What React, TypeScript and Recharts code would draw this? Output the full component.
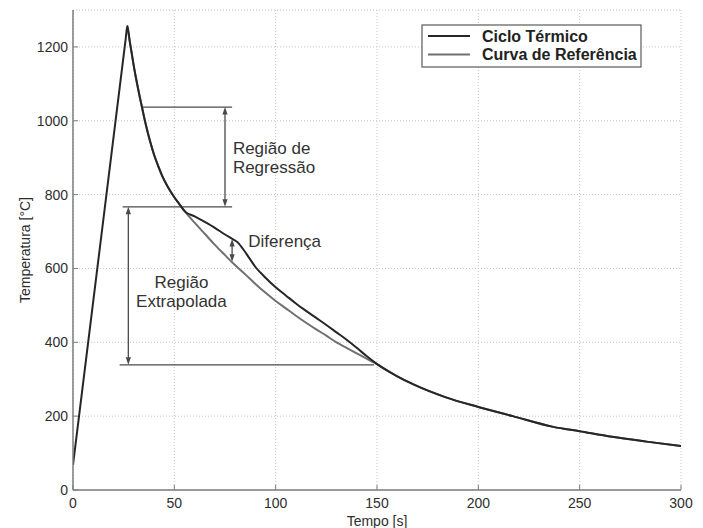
import React from 'react'
import {
  LineChart,
  Line,
  XAxis,
  YAxis,
  CartesianGrid,
  ReferenceLine,
  ReferenceDot,
  Legend,
} from 'recharts'

// Ciclo térmico medido: tempo [s] e temperatura [°C]
const cicloTempo = [0, 26, 26.8, 28, 29, 30, 31, 32, 33, 34, 35, 36, 38, 40, 42, 44, 46, 48, 50, 52, 55.3, 60, 65, 70, 75, 78, 81, 84, 87, 90, 95, 100, 105, 110, 115, 120, 125, 130, 135, 140, 145, 150, 160, 168, 184, 200, 217, 237, 250, 266, 283, 300]
const cicloTemp = [68, 1222, 1257, 1215, 1182, 1148, 1118, 1090, 1063, 1038, 1012, 988, 945, 908, 878, 851, 829, 810, 793, 778, 754, 741, 726, 710, 692, 682, 672, 652, 628, 604, 575, 549, 527, 505, 485, 466, 447, 427, 407, 385, 362, 341, 308, 286, 251, 225, 200, 171, 159, 144, 131, 119]

// Curva de referência (ajuste da região de regressão, extrapolada)
const refTempo = [26.8, 28, 29, 30, 31, 32, 33, 34, 35, 36, 38, 40, 42, 44, 46, 48, 50, 52, 55.3, 60, 65, 70, 75, 79, 85, 90, 95, 100, 105, 110, 115, 120, 125, 130, 135, 140, 145, 150, 160, 168, 184, 200, 217, 237, 250, 266, 283, 300]
const refTemp = [1257, 1215, 1182, 1148, 1118, 1090, 1063, 1038, 1012, 988, 945, 908, 878, 851, 829, 810, 793, 778, 754, 724, 694, 664, 636, 614, 584, 558, 534, 512, 492, 472, 453, 435, 418, 400, 385, 370, 355, 341, 308, 286, 251, 225, 200, 171, 159, 144, 131, 119]

const seriesNames = ['Ciclo Térmico', 'Curva de Referência']
const xTicks = [0, 50, 100, 150, 200, 250, 300]
const yTicks = [0, 200, 400, 600, 800, 1000, 1200]

// linhas-guia horizontais (temperatura, tempo inicial, tempo final)
const guias = [
  { v: 1037, de: 34, ate: 78.5 },
  { v: 767, de: 24.5, ate: 78.5 },
  { v: 339, de: 23, ate: 148.5 },
]

// setas verticais de dupla ponta
const setas = [
  { t: 75, de: 1037, ate: 767 },
  { t: 27.3, de: 767, ate: 339 },
  { t: 78.5, de: 680, ate: 618 },
]

const notas = [
  { t: 78.9, v: 910, texto: 'Região de', anchor: 'start' },
  { t: 78.9, v: 859, texto: 'Regressão', anchor: 'start' },
  { t: 86.5, v: 659, texto: 'Diferença', anchor: 'start' },
  { t: 53.5, v: 546, texto: 'Região', anchor: 'middle' },
  { t: 53.5, v: 496, texto: 'Extrapolada', anchor: 'middle' },
]

const cicloData = cicloTempo.map((t, i) => ({ t, v: cicloTemp[i] }))
const refData = refTempo.map((t, i) => ({ t, v: refTemp[i] }))

const FRAME = '#7c7c7c'
const INK = '#2e2e2e'
const GUIDE = '#4a4a4a'
const FONT = '"Liberation Sans", Arial, Helvetica, sans-serif'

const tickBottom = (p: any) => (
  <g>
    <line x1={p.x} x2={p.x} y1={p.y} y2={p.y - 5} stroke={FRAME} />
    <text x={p.x} y={p.y + 18} textAnchor="middle" fontSize={14} fill={INK}>
      {p.payload.value}
    </text>
  </g>
)

const tickLeft = (p: any) => (
  <g>
    <line x1={p.x} x2={p.x + 5} y1={p.y} y2={p.y} stroke={FRAME} />
    <text x={p.x - 5} y={p.y + 5} textAnchor="end" fontSize={14} fill={INK}>
      {p.payload.value}
    </text>
  </g>
)

const tickTop = (p: any) => <line x1={p.x} x2={p.x} y1={p.y} y2={p.y + 5} stroke={FRAME} />
const tickRight = (p: any) => <line x1={p.x} x2={p.x - 5} y1={p.y} y2={p.y} stroke={FRAME} />

const arrowShape = (p: any) => {
  const { x1, y1, x2, y2 } = p
  const top = Math.min(y1, y2)
  const bot = Math.max(y1, y2)
  return (
    <g>
      <line x1={x1} x2={x2} y1={top + 3} y2={bot - 3} stroke={GUIDE} strokeWidth={1.3} />
      <polygon points={`${x1},${top} ${x1 - 2.6},${top + 7.5} ${x1 + 2.6},${top + 7.5}`} fill={GUIDE} />
      <polygon points={`${x1},${bot} ${x1 - 2.6},${bot - 7.5} ${x1 + 2.6},${bot - 7.5}`} fill={GUIDE} />
    </g>
  )
}

const legendBox = ({ payload }: any) => {
  const items = [...(payload || [])].sort(
    (a: any, b: any) => seriesNames.indexOf(a.value) - seriesNames.indexOf(b.value)
  )
  return (
    <svg width={221} height={44}>
      <rect x={1} y={1} width={219} height={42} fill="#fff" stroke="#5a5a5a" strokeWidth={1.2} />
      {items.map((it: any, i: number) => (
        <g key={it.value}>
          <line x1={7} x2={49} y1={12 + i * 18.5} y2={12 + i * 18.5} stroke={it.color} strokeWidth={2} />
          <text x={61} y={17.7 + i * 18.5} fontSize={16} fontWeight="bold" fill="#222">
            {it.value}
          </text>
        </g>
      ))}
    </svg>
  )
}

export default function App() {
  return (
    <div style={{ position: 'absolute', left: 0, top: 0, background: '#fff', fontFamily: FONT }}>
      <LineChart width={703} height={528} margin={{ top: 10, right: 22, left: 0, bottom: 0 }}>
        <CartesianGrid stroke="#c4c4c4" strokeDasharray="1 2" />
        <XAxis
          dataKey="t"
          type="number"
          domain={[0, 300]}
          ticks={xTicks}
          allowDataOverflow
          height={38}
          tickSize={0}
          tickMargin={0}
          tickLine={false}
          axisLine={{ stroke: FRAME, strokeWidth: 1.5 }}
          tick={tickBottom}
          label={{ value: 'Tempo [s]', position: 'insideBottom', offset: 2, fontSize: 14, fill: INK }}
        />
        <XAxis
          xAxisId="top"
          orientation="top"
          dataKey="t"
          type="number"
          domain={[0, 300]}
          ticks={xTicks}
          allowDataOverflow
          height={0}
          tickSize={0}
          tickMargin={0}
          tickLine={false}
          axisLine={{ stroke: FRAME, strokeWidth: 1.5 }}
          tick={tickTop}
        />
        <YAxis
          type="number"
          domain={[0, 1300]}
          ticks={yTicks}
          allowDataOverflow
          width={73}
          tickSize={0}
          tickMargin={0}
          tickLine={false}
          axisLine={{ stroke: FRAME, strokeWidth: 1.5 }}
          tick={tickLeft}
          label={{
            value: 'Temperatura [°C]',
            angle: -90,
            position: 'insideLeft',
            offset: 25,
            fontSize: 14,
            fill: INK,
            style: { textAnchor: 'middle' },
          }}
        />
        <YAxis
          yAxisId="right"
          orientation="right"
          type="number"
          domain={[0, 1300]}
          ticks={yTicks}
          allowDataOverflow
          width={0}
          tickSize={0}
          tickMargin={0}
          tickLine={false}
          axisLine={{ stroke: FRAME, strokeWidth: 1.5 }}
          tick={tickRight}
        />
        <Legend
          layout="horizontal"
          verticalAlign="middle"
          align="center"
          width={221}
          height={44}
          wrapperStyle={{ left: 421, top: 24 }}
          content={legendBox}
        />
        {guias.map((g) => (
          <ReferenceLine
            key={'g' + g.v}
            segment={[{ x: g.de, y: g.v }, { x: g.ate, y: g.v }]}
            stroke={GUIDE}
            strokeWidth={1.3}
          />
        ))}
        {setas.map((s) => (
          <ReferenceLine
            key={'s' + s.t}
            segment={[{ x: s.t, y: s.de }, { x: s.t, y: s.ate }]}
            shape={arrowShape}
          />
        ))}
        {notas.map((n) => (
          <ReferenceDot
            key={n.texto}
            x={n.t}
            y={n.v}
            r={0}
            shape={(p: any) => (
              <text x={p.cx} y={p.cy} textAnchor={n.anchor} fontSize={17} fill="#333">
                {n.texto}
              </text>
            )}
          />
        ))}
        <Line
          data={refData}
          dataKey="v"
          name="Curva de Referência"
          type="monotone"
          stroke="#707070"
          strokeWidth={2}
          dot={false}
          isAnimationActive={false}
        />
        <Line
          data={cicloData}
          dataKey="v"
          name="Ciclo Térmico"
          type="monotone"
          stroke="#262626"
          strokeWidth={2}
          dot={false}
          isAnimationActive={false}
        />
      </LineChart>
    </div>
  )
}
